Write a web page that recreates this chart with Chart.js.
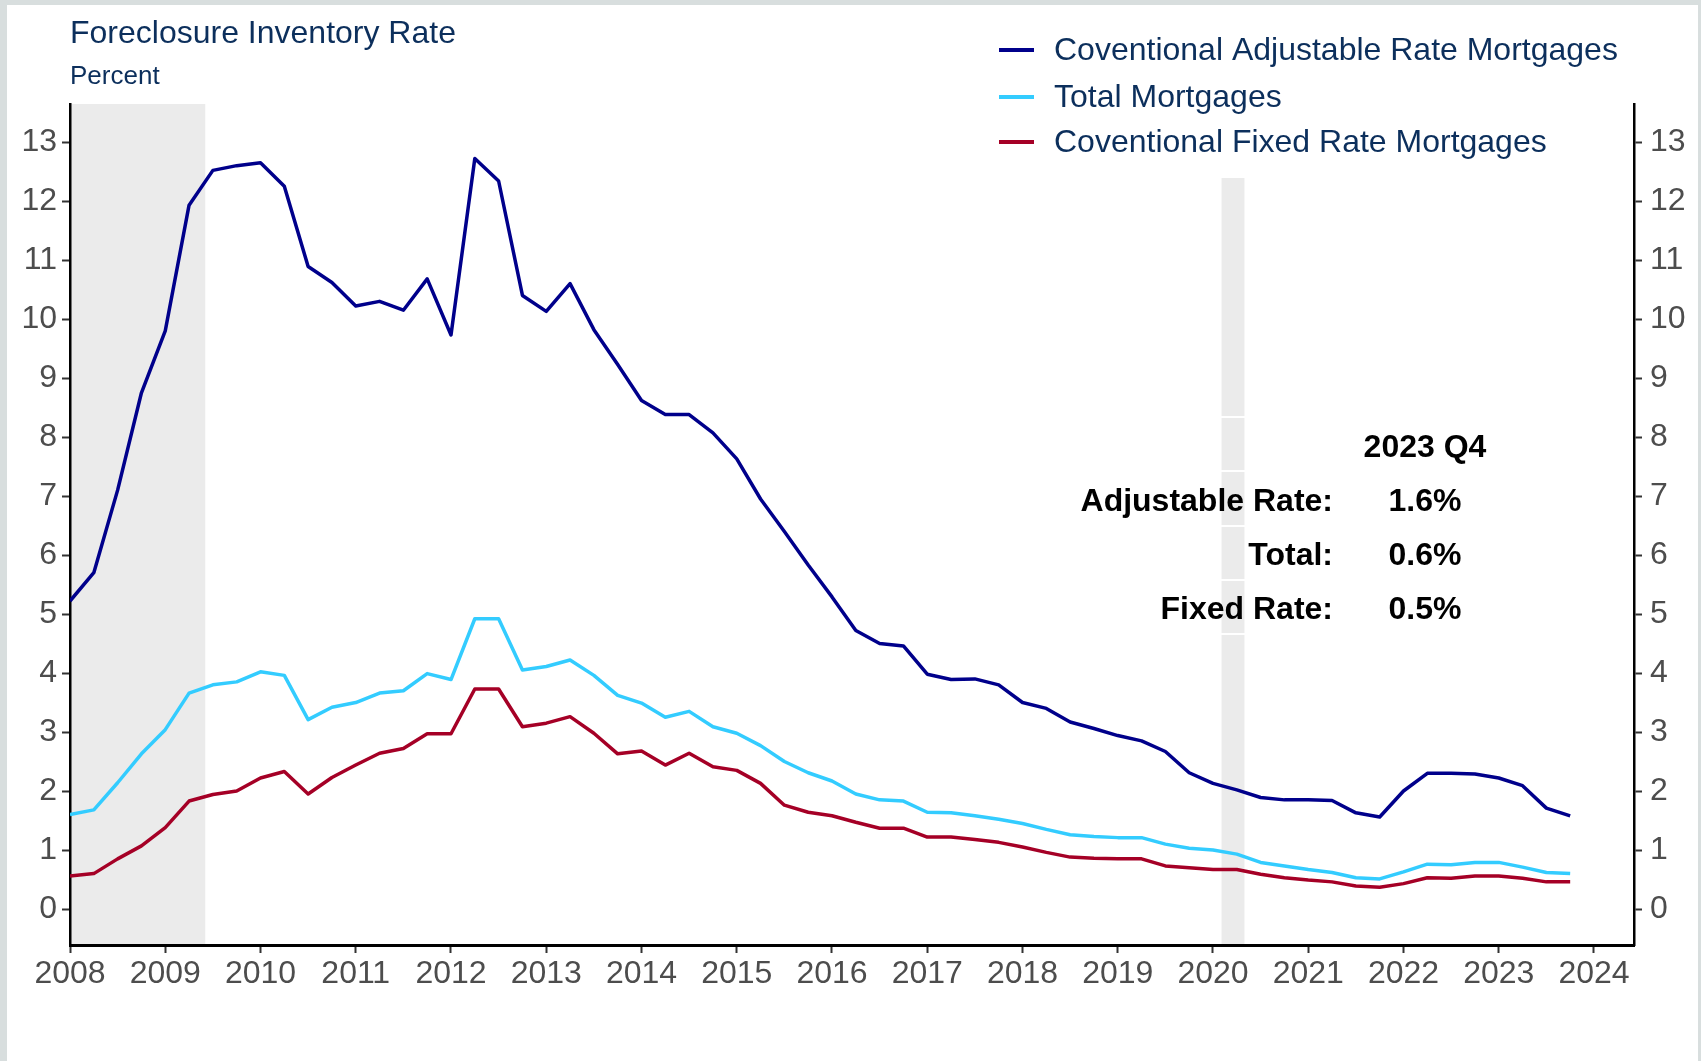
<!DOCTYPE html>
<html>
<head>
<meta charset="utf-8">
<script src="https://cdn.jsdelivr.net/npm/chart.js@4.4.1/dist/chart.umd.min.js"></script>
<style>
  html, body { margin: 0; padding: 0; background: #fff; }
  #wrap { position: relative; width: 1701px; height: 1061px; }
</style>
</head>
<body>
<div id="wrap"><canvas id="chart" width="1701" height="1061"></canvas></div>
<script>
const quarters = [
    '2008 Q1','2008 Q2','2008 Q3','2008 Q4','2009 Q1','2009 Q2','2009 Q3','2009 Q4',
    '2010 Q1','2010 Q2','2010 Q3','2010 Q4','2011 Q1','2011 Q2','2011 Q3','2011 Q4',
    '2012 Q1','2012 Q2','2012 Q3','2012 Q4','2013 Q1','2013 Q2','2013 Q3','2013 Q4',
    '2014 Q1','2014 Q2','2014 Q3','2014 Q4','2015 Q1','2015 Q2','2015 Q3','2015 Q4',
    '2016 Q1','2016 Q2','2016 Q3','2016 Q4','2017 Q1','2017 Q2','2017 Q3','2017 Q4',
    '2018 Q1','2018 Q2','2018 Q3','2018 Q4','2019 Q1','2019 Q2','2019 Q3','2019 Q4',
    '2020 Q1','2020 Q2','2020 Q3','2020 Q4','2021 Q1','2021 Q2','2021 Q3','2021 Q4',
    '2022 Q1','2022 Q2','2022 Q3','2022 Q4','2023 Q1','2023 Q2','2023 Q3','2023 Q4'
];

const adjustable = [
    5.22, 5.70, 7.10, 8.75, 9.80, 11.93, 12.52, 12.60, 12.65, 12.25,
    10.89, 10.62, 10.22, 10.30, 10.15, 10.68, 9.73, 12.72, 12.34, 10.40,
    10.13, 10.60, 9.82, 9.23, 8.62, 8.38, 8.38, 8.07, 7.63, 6.95,
    6.40, 5.83, 5.29, 4.72, 4.50, 4.46, 3.98, 3.89, 3.90, 3.80,
    3.50, 3.40, 3.17, 3.06, 2.94, 2.85, 2.67, 2.31, 2.13, 2.02,
    1.89, 1.85, 1.85, 1.84, 1.63, 1.56, 2.00, 2.30, 2.30, 2.29,
    2.22, 2.09, 1.71, 1.58
];
const total = [
    1.60, 1.68, 2.14, 2.63, 3.04, 3.66, 3.80, 3.85, 4.02, 3.96,
    3.21, 3.42, 3.50, 3.66, 3.70, 3.99, 3.89, 4.92, 4.92, 4.05,
    4.11, 4.22, 3.96, 3.62, 3.49, 3.25, 3.35, 3.09, 2.98, 2.77,
    2.50, 2.31, 2.17, 1.95, 1.85, 1.83, 1.64, 1.63, 1.58, 1.52,
    1.45, 1.35, 1.26, 1.23, 1.21, 1.21, 1.10, 1.03, 1.00, 0.93,
    0.79, 0.73, 0.67, 0.62, 0.53, 0.51, 0.63, 0.76, 0.75, 0.79,
    0.79, 0.71, 0.62, 0.60
];
const fixed = [
    0.56, 0.60, 0.85, 1.07, 1.38, 1.83, 1.94, 2.00, 2.22, 2.33,
    1.95, 2.23, 2.44, 2.64, 2.72, 2.97, 2.97, 3.73, 3.73, 3.09,
    3.15, 3.26, 2.98, 2.63, 2.68, 2.44, 2.64, 2.41, 2.35, 2.13,
    1.76, 1.64, 1.58, 1.47, 1.37, 1.37, 1.22, 1.22, 1.18, 1.13,
    1.05, 0.96, 0.88, 0.86, 0.85, 0.85, 0.73, 0.70, 0.67, 0.67,
    0.59, 0.53, 0.49, 0.46, 0.39, 0.37, 0.43, 0.53, 0.52, 0.56,
    0.56, 0.52, 0.46, 0.46
];

const seriesNames = ['Coventional Adjustable Rate Mortgages', 'Total Mortgages', 'Coventional Fixed Rate Mortgages'];
const seriesColors = ['#00008b', '#33ccff', '#a50026'];

const yearTicks = [2008, 2009, 2010, 2011, 2012, 2013, 2014, 2015, 2016, 2017, 2018, 2019, 2020, 2021, 2022, 2023, 2024];
const rateTicks = [0, 1, 2, 3, 4, 5, 6, 7, 8, 9, 10, 11, 12, 13];

// recession bands, in decimal years
const recessions = [[2007.92, 2009.42], [2020.09, 2020.33]];

const titleText = 'Foreclosure Inventory Rate';
const subtitleText = 'Percent';
const latestLabel = '2023 Q4';
const latestRows = [['Adjustable Rate:', '1.6%'], ['Total:', '0.6%'], ['Fixed Rate:', '0.5%']];

const FONT = '"Liberation Sans", Arial, sans-serif';
const NAVY = '#0c2f5c';

function quarterToYear(q) {
    const [yr, qq] = q.split(' Q');
    return parseInt(yr) + (parseInt(qq) - 1) / 4;
}

function toPoints(values) {
    return values.map((v, i) => ({ x: quarterToYear(quarters[i]), y: v }));
}

const decor = {
    id: 'decor',
    beforeDraw(chart) {
        const { ctx, chartArea: a, scales: { x } } = chart;
        ctx.save();
        // grey frame round a white panel
        ctx.fillStyle = '#d8dede';
        ctx.fillRect(0, 0, chart.width, chart.height);
        ctx.fillStyle = '#fff';
        ctx.fillRect(7, 5, chart.width - 10, chart.height - 5);

        // recession shading
        ctx.fillStyle = '#ebebeb';
        recessions.forEach(([s, e]) => {
            const x0 = Math.max(a.left, x.getPixelForValue(s));
            const x1 = Math.min(a.right, x.getPixelForValue(e));
            ctx.fillRect(x0, a.top, x1 - x0, a.bottom - a.top);
        });

        // legend backing covers the top of the shading
        ctx.fillStyle = '#fff';
        ctx.fillRect(985, a.top - 2, 640, 178 - a.top + 2);

        // white borders of the annotation labels
        ctx.strokeStyle = '#fff';
        ctx.lineWidth = 2;
        [417, 471, 526, 580, 634].forEach(yy => {
            ctx.beginPath();
            ctx.moveTo(1080, yy);
            ctx.lineTo(1500, yy);
            ctx.stroke();
        });
        ctx.restore();
    },
    afterDraw(chart) {
        const { ctx } = chart;
        ctx.save();
        // title + subtitle
        ctx.fillStyle = NAVY;
        ctx.textAlign = 'left';
        ctx.textBaseline = 'alphabetic';
        ctx.font = `32px ${FONT}`;
        ctx.fillText(titleText, 70, 43);
        ctx.font = `26px ${FONT}`;
        ctx.fillText(subtitleText, 70, 84);

        // legend
        const rows = [50, 97, 142];
        chart.data.datasets.forEach((ds, i) => {
            ctx.strokeStyle = ds.borderColor;
            ctx.lineWidth = 4;
            ctx.beginPath();
            ctx.moveTo(999, rows[i]);
            ctx.lineTo(1034, rows[i]);
            ctx.stroke();
            ctx.fillStyle = NAVY;
            ctx.font = `32px ${FONT}`;
            ctx.textBaseline = 'middle';
            ctx.fillText(ds.label, 1054, rows[i] + 1);
        });

        // latest reading box
        ctx.fillStyle = '#000';
        ctx.font = `bold 32px ${FONT}`;
        ctx.textBaseline = 'middle';
        ctx.textAlign = 'center';
        ctx.fillText(latestLabel, 1425, 448);
        const rowY = [502, 556, 610];
        latestRows.forEach(([name, val], i) => {
            ctx.textAlign = 'right';
            ctx.fillText(name, 1333, rowY[i]);
            ctx.textAlign = 'center';
            ctx.fillText(val, 1425, rowY[i]);
        });
        ctx.restore();
    }
};

const yAxisCommon = {
    min: -0.61,
    max: 13.645,
    afterBuildTicks: s => { s.ticks = rateTicks.map(v => ({ value: v })); },
    grid: { display: true, drawOnChartArea: false, drawTicks: true, tickLength: 8, tickWidth: 2, tickColor: '#333' },
    border: { display: true, color: '#000', width: 2.5 },
    ticks: { color: '#4d4d4d', font: { size: 32, family: FONT }, padding: 5 }
};

new Chart(document.getElementById('chart').getContext('2d'), {
    type: 'line',
    data: {
        datasets: [
            { label: seriesNames[0], data: toPoints(adjustable), borderColor: seriesColors[0] },
            { label: seriesNames[1], data: toPoints(total), borderColor: seriesColors[1] },
            { label: seriesNames[2], data: toPoints(fixed), borderColor: seriesColors[2] }
        ].map(ds => Object.assign(ds, {
            borderWidth: 3.5, pointRadius: 0, tension: 0, fill: false,
            borderJoinStyle: 'round', borderCapStyle: 'butt', yAxisID: 'y'
        }))
    },
    options: {
        responsive: false,
        animation: false,
        devicePixelRatio: 1,
        layout: { padding: { top: 104, left: 0, right: 0, bottom: 0 } },
        plugins: { legend: { display: false }, tooltip: { enabled: false } },
        scales: {
            x: {
                type: 'linear',
                min: 2008,
                max: 2024.42,
                afterBuildTicks: s => { s.ticks = yearTicks.map(v => ({ value: v })); },
                afterFit: s => { s.height = 116; },
                grid: { display: true, drawOnChartArea: false, drawTicks: true, tickLength: 8, tickWidth: 2, tickColor: '#333' },
                border: { display: true, color: '#000', width: 3 },
                ticks: {
                    color: '#4d4d4d', font: { size: 32, family: FONT }, padding: 2,
                    maxRotation: 0, autoSkip: false, callback: v => String(v)
                }
            },
            y: Object.assign({}, yAxisCommon, {
                position: 'left',
                afterFit: s => { s.width = 70; }
            }),
            y2: Object.assign({}, yAxisCommon, {
                position: 'right',
                afterFit: s => { s.width = 67; },
                ticks: { color: '#4d4d4d', font: { size: 32, family: FONT }, padding: 8 }
            })
        }
    },
    plugins: [decor]
});
</script>
</body>
</html>
